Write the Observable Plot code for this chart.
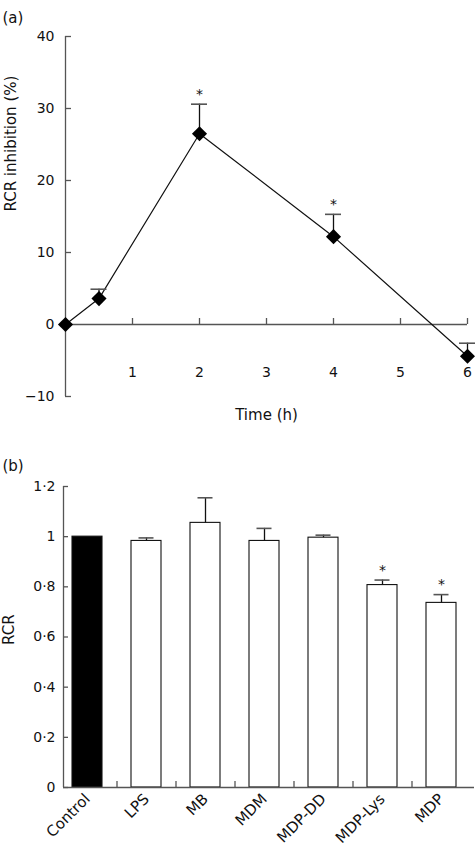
<!DOCTYPE html>
<html><head><meta charset="utf-8">
<script src="https://cdn.jsdelivr.net/npm/d3@7"></script>
<script src="https://cdn.jsdelivr.net/npm/@observablehq/plot@0.6"></script>
<style>
body{margin:0;background:#fff;}
#root{width:475px;}
#root svg{display:block;}
</style></head><body><div id="root"></div>
<script>
// ---- Panel (a): RCR inhibition over time ----
const times = [0, 0.5, 2, 4, 6];
const inhibition = [0, 3.6, 26.5, 12.2, -4.4];
const inhibitionErr = [0, 1.3, 4.1, 3.1, 1.8];
const inhibitionSig = [false, false, true, true, false];
const timeTicks = [1, 2, 3, 4, 5, 6];
const inhibitionTicks = [-10, 0, 10, 20, 30, 40];

// ---- Panel (b): RCR by treatment ----
const treatments = ["Control", "LPS", "MB", "MDM", "MDP-DD", "MDP-Lys", "MDP"];
const rcr = [1.0, 0.983, 1.055, 0.983, 0.996, 0.807, 0.736];
const rcrErr = [0, 0.012, 0.1, 0.05, 0.01, 0.02, 0.033];
const rcrSig = [false, false, false, false, false, true, true];
const rcrTicks = [0, 0.2, 0.4, 0.6, 0.8, 1, 1.2];

const FONT = "'DejaVu Sans', sans-serif";
const AXIS = "#555";
const INK = "#111";

const root = document.getElementById("root");

// ---------- Plot A ----------
const seriesA = times.map((t, i) => ({t, v: inhibition[i], e: inhibitionErr[i], sig: inhibitionSig[i]}));
const errA = seriesA.filter(d => d.e > 0);

const plotA = Plot.plot({
  width: 475, height: 450,
  marginTop: 36, marginRight: 8, marginBottom: 54, marginLeft: 65,
  style: {fontFamily: FONT, fontSize: "14px", color: INK, background: "white"},
  x: {domain: [0, 6], axis: null},
  y: {domain: [-10, 40]},
  marks: [
    Plot.axisY(inhibitionTicks, {tickSize: 0, tickPadding: 11, fontSize: 14, label: null}),
    Plot.ruleX([0], {stroke: AXIS, strokeWidth: 1.3}),
    Plot.ruleY(inhibitionTicks, {y: d => d, x1: 0, x2: 0, insetRight: -6, stroke: AXIS, strokeWidth: 1.3}),
    Plot.ruleY([0], {stroke: AXIS, strokeWidth: 1.3}),
    Plot.ruleX(timeTicks, {x: d => d, y1: 0, y2: 0, insetBottom: 6, stroke: AXIS, strokeWidth: 1.3}),
    Plot.text(timeTicks, {x: d => d, y: -6.7, text: d => String(d), fontSize: 14}),
    Plot.text(["Time (h)"], {frameAnchor: "bottom", dy: 23, fontSize: 15}),
    Plot.text(["RCR inhibition (%)"], {frameAnchor: "left", rotate: -90, dx: -54, dy: -5, fontSize: 15}),
    Plot.line(seriesA, {x: "t", y: "v", stroke: INK, strokeWidth: 1.2}),
    Plot.ruleX(errA, {x: "t", y1: "v", y2: d => d.v + d.e, stroke: INK, strokeWidth: 1.3}),
    Plot.ruleY(errA, {y: d => d.v + d.e, x1: "t", x2: "t", insetLeft: -8, insetRight: -8, stroke: AXIS, strokeWidth: 1.6}),
    Plot.dot(seriesA, {x: "t", y: "v", symbol: "diamond2", r: 6.8, fill: "black"}),
    Plot.text(seriesA.filter(d => d.sig), {x: "t", y: d => d.v + d.e, text: () => "*", dy: -10, fontSize: 14}),
    Plot.text(["(a)"], {frameAnchor: "top-left", textAnchor: "start", dx: -63, dy: -24, fontSize: 15})
  ]
});
root.appendChild(plotA);

// ---------- Plot B ----------
const seriesB = treatments.map((name, i) => ({name, v: rcr[i], e: rcrErr[i], sig: rcrSig[i]}));
const errB = seriesB.filter(d => d.e > 0);
const fmt = d => String(d).replace(".", "\u00b7");

const baseB = {
  width: 475, height: 409,
  marginTop: 36, marginRight: 1, marginBottom: 72, marginLeft: 63,
  style: {fontFamily: FONT, fontSize: "14px", color: INK, background: "white"},
  x: {domain: treatments, paddingInner: 0.485, paddingOuter: 0.211, align: 0.32, axis: null},
  y: {domain: [0, 1.2], axis: null}
};

// probe the band scale to place the between-band ticks and axis line
const probe = Plot.plot({...baseB, marks: [Plot.barY(seriesB, {x: "name", y: "v"})]});
const sx = probe.scale("x");
const step = sx.step, bw = sx.bandwidth;
const firstCenter = sx.apply(treatments[0]) + bw / 2;
const axisDx = baseB.marginLeft - firstCenter;
const frameW = baseB.width - baseB.marginLeft - baseB.marginRight;
const capInset = (bw - 15) / 2;

const plotB = Plot.plot({
  ...baseB,
  marks: [
    Plot.axisY(rcrTicks, {tickSize: 0, tickPadding: 8, tickFormat: fmt, fontSize: 14, label: null}),
    Plot.axisX({tickSize: 0, tickRotate: -45, tickPadding: 9, fontSize: 15, label: null}),
    Plot.ruleY(rcrTicks, {y: d => d, insetRight: frameW - 5, stroke: AXIS, strokeWidth: 1.3}),
    Plot.ruleX(treatments.slice(1), {x: d => d, y1: 0, y2: 0, insetBottom: 6, dx: -step / 2, stroke: AXIS, strokeWidth: 1.3}),
    Plot.barY(seriesB, {x: "name", y: "v", fill: d => d.name === "Control" ? "black" : "white", stroke: INK, strokeWidth: 1.1}),
    Plot.ruleX(errB, {x: "name", y1: "v", y2: d => d.v + d.e, stroke: INK, strokeWidth: 1.3}),
    Plot.tickY(errB, {x: "name", y: d => d.v + d.e, insetLeft: capInset, insetRight: capInset, stroke: AXIS, strokeWidth: 1.6}),
    Plot.text(seriesB.filter(d => d.sig), {x: "name", y: d => d.v + d.e, text: () => "*", dy: -10, fontSize: 14}),
    Plot.ruleY([0], {stroke: AXIS, strokeWidth: 1.3}),
    Plot.ruleX([treatments[0]], {x: d => d, dx: axisDx, stroke: AXIS, strokeWidth: 1.3}),
    Plot.text(["RCR"], {frameAnchor: "left", rotate: -90, dx: -54, dy: 8, fontSize: 15}),
    Plot.text(["(b)"], {frameAnchor: "top-left", textAnchor: "start", dx: -61, dy: -26, fontSize: 15})
  ]
});
root.appendChild(plotB);
</script>
</body></html>
